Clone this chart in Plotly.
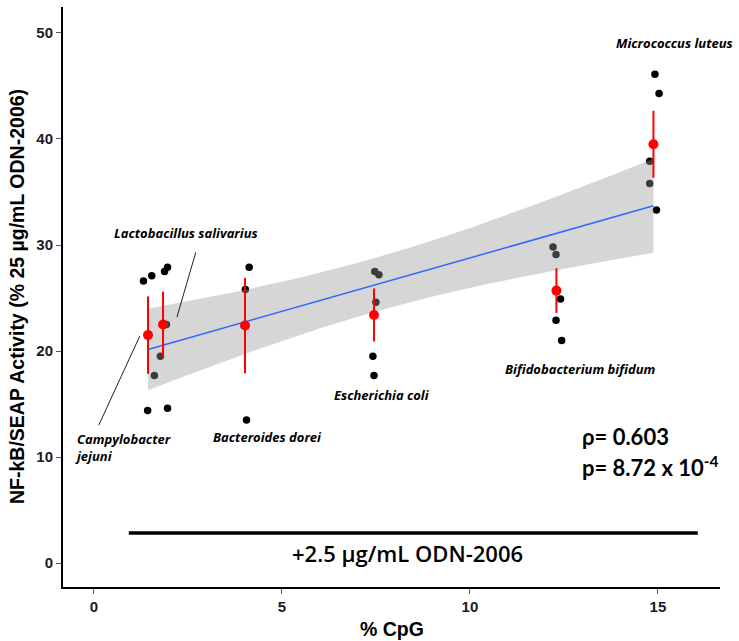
import numpy as np
import plotly.graph_objects as go

# ---------------- data ----------------
groups = ["Campylobacter jejuni", "Lactobacillus salivarius", "Bacteroides dorei",
          "Escherichia coli", "Bifidobacterium bifidum", "Micrococcus luteus"]
group_cpg = [1.44, 1.84, 4.02, 7.45, 12.30, 14.88]
group_mean = [21.5, 22.5, 22.4, 23.4, 25.7, 39.5]
group_se = [3.65, 3.1, 4.5, 2.5, 2.1, 3.15]

# individual replicates (x jittered as drawn)
point_group = [0, 0, 0, 0,
               1, 1, 1, 1, 1,
               2, 2, 2,
               3, 3, 3, 3, 3,
               4, 4, 4, 4, 4,
               5, 5, 5, 5, 5]
point_x = [1.32, 1.54, 1.61, 1.43,
           1.88, 1.96, 1.93, 1.77, 1.96,
           4.13, 4.03, 4.06,
           7.47, 7.58, 7.50, 7.42, 7.45,
           12.21, 12.29, 12.41, 12.29, 12.44,
           14.92, 15.03, 14.78, 14.78, 14.96]
point_y = [26.6, 27.1, 17.7, 14.4,
           27.5, 27.9, 22.5, 19.5, 14.6,
           27.9, 25.8, 13.5,
           27.5, 27.2, 24.6, 19.5, 17.7,
           29.8, 29.1, 24.9, 22.9, 21.0,
           46.1, 44.3, 37.9, 35.8, 33.3]

x_ticks = [0, 5, 10, 15]
y_ticks = [0, 10, 20, 30, 40, 50]
rho_text = "ρ= 0.603"
p_text = "p= 8.72 x 10<sup>-4</sup>"
treatment_text = "+2.5 µg/mL ODN-2006"

# ---------------- linear fit with 95% CI (as geom_smooth(method='lm')) ----------------
xr = np.array([group_cpg[g] for g in point_group])
yr = np.array(point_y)
n = len(xr)
b, a = np.polyfit(xr, yr, 1)
resid = yr - (a + b * xr)
s = np.sqrt(np.sum(resid ** 2) / (n - 2))
xbar = xr.mean()
sxx = np.sum((xr - xbar) ** 2)
t_crit = 2.0595  # t(0.975, df=25)
xs = np.linspace(xr.min(), xr.max(), 80)
fit = a + b * xs
half = t_crit * s * np.sqrt(1.0 / n + (xs - xbar) ** 2 / sxx)
lo, hi = fit - half, fit + half

fig = go.Figure()

# black replicate points (under the ribbon)
fig.add_trace(go.Scatter(x=point_x, y=point_y, mode="markers",
                         marker=dict(color="black", size=7.5), hoverinfo="skip"))
# ribbon
fig.add_trace(go.Scatter(x=np.concatenate([xs, xs[::-1]]), y=np.concatenate([hi, lo[::-1]]),
                         mode="lines", fill="toself", fillcolor="rgba(153,153,153,0.4)",
                         line=dict(width=0), hoverinfo="skip"))
# fit line
fig.add_trace(go.Scatter(x=xs, y=fit, mode="lines", line=dict(color="#3366FF", width=1.5),
                         hoverinfo="skip"))
# means + SE
fig.add_trace(go.Scatter(x=group_cpg, y=group_mean, mode="markers",
                         marker=dict(color="red", size=10),
                         error_y=dict(type="data", array=group_se, color="red", thickness=2, width=0),
                         hoverinfo="skip"))

lab_font = dict(family="Open Sans, sans-serif", size=13, color="black", weight="bold", style="italic")
lab_pos = {
    "Micrococcus luteus": (15.43, 49.06),
    "Lactobacillus salivarius": (2.45, 31.1),
    "Bacteroides dorei": (4.63, 11.9),
    "Escherichia coli": (7.66, 15.85),
    "Bifidobacterium bifidum": (12.94, 18.3),
}
for name, (lx, ly) in lab_pos.items():
    fig.add_annotation(x=lx, y=ly, text=name, showarrow=False,
                       font=lab_font, xanchor="center", yanchor="middle")
fig.add_annotation(x=-0.56, y=10.94, text="Campylobacter<br>jejuni", showarrow=False,
                   font=lab_font, xanchor="left", yanchor="middle", align="left")

# leader lines
fig.add_shape(type="line", x0=2.71, y0=29.3, x1=2.21, y1=23.2, line=dict(color="#222", width=1))
fig.add_shape(type="line", x0=0.13, y0=13.0, x1=1.22, y1=21.4, line=dict(color="#222", width=1))

# stats
stat_font = dict(family="Lato, sans-serif", size=22, color="black", weight="bold")
fig.add_annotation(x=12.93, y=11.92, text=rho_text, showarrow=False,
                   font=stat_font, xanchor="left", yanchor="middle")
fig.add_annotation(x=12.93, y=9.08, text=p_text, showarrow=False,
                   font=stat_font, xanchor="left", yanchor="middle")

# treatment bar
fig.add_shape(type="line", x0=0.93, y0=2.83, x1=16.06, y1=2.83, line=dict(color="black", width=3.5))
fig.add_annotation(x=8.35, y=0.94, text=treatment_text, showarrow=False,
                   font=dict(family="Open Sans, sans-serif", size=22, color="black", weight=600),
                   xanchor="center", yanchor="middle")

# axis titles
title_font = dict(family="Liberation Sans, Arial", size=19.5, color="black", weight="bold")
fig.add_annotation(xref="paper", yref="paper", x=0, y=0.5, xshift=-46,
                   text="NF-kB/SEAP Activity (% 25 µg/mL ODN-2006)", textangle=-90,
                   showarrow=False, font=title_font, xanchor="center", yanchor="middle")
fig.add_annotation(xref="paper", yref="paper", x=0.5, y=0, yshift=-42,
                   text="% CpG", showarrow=False, font=title_font,
                   xanchor="center", yanchor="middle")

tick_font = dict(family="Liberation Sans, Arial", size=15, color="#1a1a2a", weight="bold")
fig.update_xaxes(range=[-0.82, 16.65], tickvals=x_ticks, ticktext=[str(v) for v in x_ticks],
                 showgrid=False, zeroline=False, showline=True, linecolor="black", linewidth=2,
                 ticks="outside", ticklen=5, tickcolor="#555", tickwidth=1.2, tickfont=tick_font)
fig.update_yaxes(range=[-2.26, 52.45], tickvals=y_ticks, ticktext=[str(v) for v in y_ticks],
                 showgrid=False, zeroline=False, showline=True, linecolor="black", linewidth=2,
                 ticks="outside", ticklen=5, tickcolor="#555", tickwidth=1.2, tickfont=tick_font)

fig.update_layout(width=739, height=641, margin=dict(l=63, r=19, t=7, b=54),
                  paper_bgcolor="white", plot_bgcolor="white", showlegend=False)

fig.write_html("out.html")
